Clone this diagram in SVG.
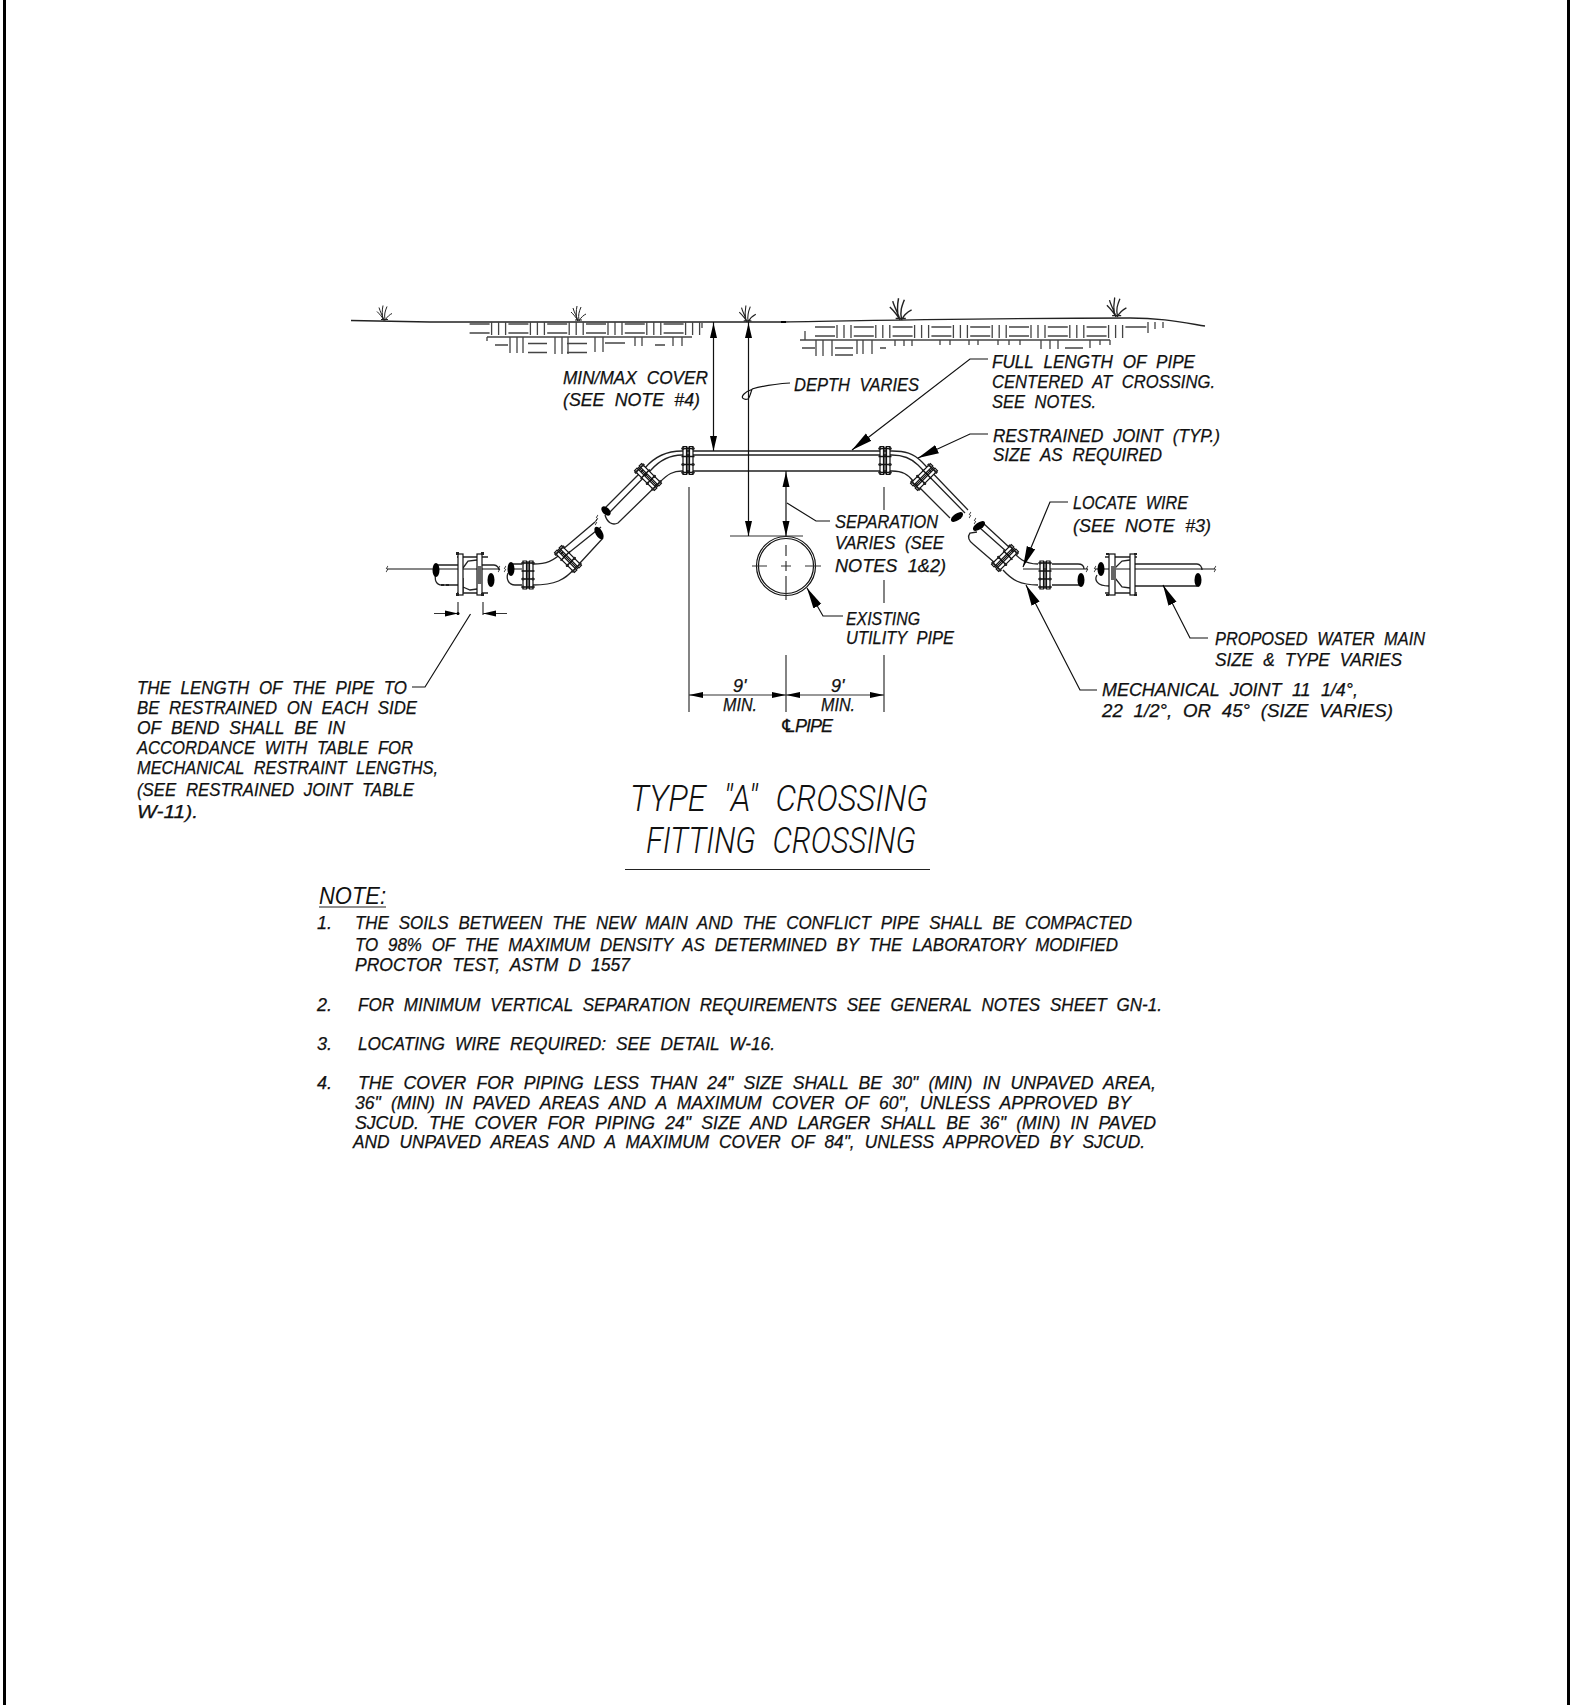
<svg xmlns="http://www.w3.org/2000/svg" width="1575" height="1705" viewBox="0 0 1575 1705">
<style>
text{fill:#111;font-family:"Liberation Sans",Arial,sans-serif;font-style:italic}
.t,.n{font-size:18px;word-spacing:.3em;stroke:#111;stroke-width:.25px}
.h{font-family:Roboto,"Liberation Sans",sans-serif;font-size:36px;font-weight:300;word-spacing:.3em}
.l{fill:none;stroke:#111;stroke-width:1.2}
.m{fill:none;stroke:#222;stroke-width:1.3}
.s{fill:none;stroke:#444;stroke-width:1.3}
.d{fill:none;stroke:#333;stroke-width:1.2}
.a{fill:none;stroke:#111;stroke-width:1.2;marker-end:url(#ah)}
</style>
<defs>
<marker id="ah" markerUnits="userSpaceOnUse" markerWidth="24" markerHeight="12" refX="21" refY="6" orient="auto"><path d="M0 1.500L21 6L0 10.500Z" fill="#000"/></marker>
<g id="brick" class="s"><path d="M0 0h20M0 9h20M22 -2v13M29 -2v13M36 -2v13"/></g>
<path id="tuft" fill="none" stroke="#222" stroke-width="1" d="M0 0C-2 -4 -5 -7 -7 -9M0 0C-1 -4 -4 -9 -5 -13M-1 -1C-2 -6 -2 -10 -1 -15M1 -1C0 -6 1 -9 3 -14M1 0C3 -4 6 -6 8 -7M-3 -1H4"/>
<g id="flange">
<path d="M-5 -14H-1.500V14H-5ZM1.500 -14H5V14H1.500Z" fill="#fff" stroke="#111" stroke-width="1.200"/>
<path d="M-6.500 -12H6.500M-6.500 -4H6.500M-6.500 4H6.500M-6.500 12H6.500" stroke="#111" stroke-width="1.500"/>
<path d="M0 -14V14" stroke="#111" stroke-width="1.200"/>
<circle cx="-5" cy="-12" r="1.500" fill="#222"/><circle cx="5" cy="-12" r="1.500" fill="#222"/>
<circle cx="-5" cy="4" r="1.500" fill="#222"/><circle cx="5" cy="4" r="1.500" fill="#222"/>
<circle cx="-5" cy="12" r="1.500" fill="#222"/><circle cx="5" cy="12" r="1.500" fill="#222"/>
</g>
<ellipse id="blob" rx="3.500" ry="7" fill="#000"/>
<path id="sq" d="M0 -3c2 1 -2 2 0 3s-2 2 0 3" fill="none" stroke="#111" stroke-width="1"/>
</defs>

<g id="border" fill="#000"><rect x="3" y="0" width="3" height="1705"/><rect x="1567" y="0" width="3" height="1705"/></g>

<g id="ground">
<path class="m" d="M351 320.500L430 322L783 322C900 320 1000 318 1130 318C1160 318 1180 322 1205 326"/>
<path d="M781 321h5v2h-5z" fill="#000"/>
<use href="#tuft" x="384" y="320.500"/><use href="#tuft" x="578" y="321"/><use href="#tuft" transform="translate(747 322) scale(1.100)"/>
<use href="#tuft" transform="translate(900 320) scale(1.450)"/><use href="#tuft" transform="translate(1116 317) scale(1.300)"/>
<g id="soil-left">
<use href="#brick" x="469.600" y="324"/><use href="#brick" x="508.400" y="324"/><use href="#brick" x="547.200" y="324"/><use href="#brick" x="586" y="324"/><use href="#brick" x="624.800" y="324"/><use href="#brick" x="663.600" y="324"/>
<path class="s" d="M702 323v5M487 337H692M487 337v4M495 345h13M510 337v16M517 337v16M523 337v16M528 343.500h19M528 352.500h19M555 337v17M562 337v17M568 337v17M567 343.500h20M567 352.500h20M595 337v15M603 337v15M605 343h20M635 337v9M642 337v9M655 345h10M673 337v9M682 337v9"/>
</g>
<g id="soil-right">
<use href="#brick" x="815" y="327"/><use href="#brick" x="853.800" y="327"/><use href="#brick" x="892.600" y="327"/><use href="#brick" x="931.400" y="327"/><use href="#brick" x="970.200" y="327"/><use href="#brick" x="1009" y="327"/><use href="#brick" x="1047.800" y="327"/><use href="#brick" x="1086.600" y="327"/>
<path class="s" d="M1125.400 327h21M1148 322v11M1155 322v7M1163 322v6M805 331v9M800 340H1110M802 348h13M816 340v16M823 340v16M832 340v16M835 348h18M835 355h18M857 340v14M863 340v14M872 340v14M880 348h6M895 340v6M904 340v6M912 340v6M940 340v5M950 340v5M969 340v5M978 340v5M998 340v5M1009 340v5M1020 340v5M1041 340v9M1050 340v9M1058 340v9M1065 348h18M1090 340v8M1100 340v5M1110 340v5"/>
</g>
</g>

<g id="water-main">
<path id="main-run" class="m" d="M682 451H892M682 455H892M682 471H892"/>
<g id="left-run">
<path class="m" d="M682 451C668 451 655 456 645 468L605 508M682 455C670 455 660 460 651 470L610 512M682 471C673 471 668 474 660 482L618 523C612 526 607 522 605 515"/>
<path class="m" d="M595 522L562 550M601 527L566 555M603 538L580 563"/>
<path class="m" d="M563 552C553 561 547 564 533 564M575 568C565 580 555 585 533 585"/>
<path class="m" d="M522 564H512M522 585H515C508 585 506 578 508 573"/>
<path class="l" d="M387 569H500M512 569H522"/>
<path class="m" d="M436 565H458M482 565H494C497 565 499 568 499 570M436 572C434 580 436 585 442 585H458"/>
<path class="m" d="M463 568L468 561L477 560M463 578V592M463 587L470 590L477 589"/>
<path class="m" d="M457 557H488M457 593H488"/>
<g fill="#fff" stroke="#111" stroke-width="1.200"><rect x="458" y="554" width="5" height="41"/><rect x="477" y="554" width="5" height="41"/></g>
<path d="M456 555h3v-3h-3zM481 555h3v-3h-3zM456 596h3v-3h-3zM481 596h3v-3h-3zM441 584h3v2h-3zM446 584h3v2h-3z" fill="#222"/>
<path d="M477 566h5v18h-5z" fill="#666"/>
<use href="#blob" x="436" y="570"/><use href="#blob" x="491" y="580"/><use href="#blob" x="511" y="569"/>
<use href="#sq" x="387" y="569"/><use href="#sq" x="499" y="569"/><use href="#sq" x="505" y="569"/>
<use href="#flange" x="528" y="575"/>
<use href="#flange" transform="translate(568 559) rotate(-45)"/>
<use href="#flange" transform="translate(648 477) rotate(-45)"/>
<use href="#flange" x="688" y="460.500"/>
<use href="#blob" transform="translate(606 511) rotate(-45) scale(1 .8)"/>
<use href="#blob" transform="translate(599 533) rotate(-30)"/>
<use href="#sq" x="597" y="518"/><use href="#sq" x="596" y="522"/>
</g>
<g id="right-run">
<path class="m" d="M892 451C905 451 913 453 922 462L968 510M892 455C902 455 911 458 918 465L965 513M892 471C902 471 908 474 914 482L950 518"/>
<path class="m" d="M983 523L1010 548M980 528L1007 552M977 532L970 533C967 537 969 541 973 544L995 563"/>
<path class="m" d="M1010 548C1018 558 1024 564 1038 564M1003 570C1012 580 1020 585 1038 585"/>
<path class="m" d="M1052 564H1078C1082 564 1084 566 1084 569M1052 585H1080M1135 564H1197C1200 564 1202 567 1202 570M1135 586H1197"/>
<path class="l" d="M1023 569H1088M1095 569H1215"/>
<path class="m" d="M1097 575C1094 580 1097 586 1109 586M1115 568L1122 561L1130 560M1115 578L1122 587L1130 588"/>
<path class="m" d="M1105 557H1137M1105 593H1137"/>
<g fill="#fff" stroke="#111" stroke-width="1.200"><rect x="1109" y="554" width="6" height="41"/><rect x="1130" y="554" width="5" height="41"/></g>
<path d="M1111 566h5v14h-5z" fill="#666"/>
<path d="M1106 555h3v-2h-3zM1134 555h3v-2h-3zM1106 596h3v-2h-3zM1134 596h3v-2h-3z" fill="#222"/>
<use href="#blob" transform="translate(957 517) rotate(55)"/><use href="#blob" transform="translate(979 526) rotate(55)"/>
<use href="#blob" x="1081" y="580"/><use href="#blob" x="1101" y="569"/><use href="#blob" x="1198" y="580"/>
<use href="#sq" x="970" y="515"/><use href="#sq" x="975" y="521"/><use href="#sq" x="1087" y="569"/><use href="#sq" x="1095" y="569"/><use href="#sq" x="1215" y="569"/>
<use href="#flange" x="885" y="460.500"/>
<use href="#flange" transform="translate(924 477) rotate(45)"/>
<use href="#flange" transform="translate(1005 558) rotate(45)"/>
<use href="#flange" x="1045" y="575"/>
</g>
</g>

<g id="existing-pipe">
<circle cx="786" cy="566" r="29.500" fill="none" stroke="#111" stroke-width="1.200"/>
<circle cx="786" cy="566" r="27.500" fill="none" stroke="#111" stroke-width="1.200"/>
<path class="d" d="M752 566H767M781 566H791M805 566H821M786 545V556M786 561V571M786 576V600"/>
</g>

<g id="connectors">
<g id="dimensions">
<path class="d" d="M730 536H803M689 487V712M884 487V510M884 580V603M884 655V712M786 655V712M458 602V615M483 602V615"/>
<path class="l" d="M713.500 322V451M748.500 322V536M786 471V536"/>
<path class="d" d="M689 695H884M434 613.500H458M483 613.500H507"/>
<g fill="#000">
<path d="M713.500 323l-3.500 15h7zM713.500 451l-3.500 -15h7zM748.500 323l-3.500 15h7zM748.500 536l-3.500 -15h7zM786 472l-3.500 15h7zM786 536l-3.500 -15h7z"/>
<path d="M689 695l14 -3v6zM786 695l-14 -3v6zM786 695l14 -3v6zM884 695l-14 -3v6z"/>
<path d="M458 613.500l-13 -3v6zM483 613.500l13 -3v6z"/><circle cx="458" cy="613.500" r="1.500"/>
</g>
</g>
<g id="leaders">
<path class="l" d="M790 383C775 384 762 386 752 389M752 389C751 392 750 397 748 399C744 400 740 398 744 394C746 392 750 390 753 389"/>
<path class="a" d="M988 359H970L852 450"/>
<path class="a" d="M988 434H970L918 458"/>
<path class="a" d="M1068 502H1050L1023 567"/>
<path class="a" d="M1097 690H1080L1026 585"/>
<path class="a" d="M1208 638H1190L1163 585"/>
<path class="a" d="M843 616H823L807 588"/>
<path class="l" d="M830 521H816L787 503"/>
<path class="l" d="M412 687H425L470.500 614"/>
</g>
</g>

<g id="labels">
<text class="t" x="563" y="384" textLength="145" lengthAdjust="spacingAndGlyphs">MIN/MAX COVER</text>
<text class="t" x="563" y="406" textLength="137" lengthAdjust="spacingAndGlyphs">(SEE NOTE #4)</text>
<text class="t" x="794" y="391" textLength="125" lengthAdjust="spacingAndGlyphs">DEPTH VARIES</text>
<text class="t" x="992" y="368" textLength="203" lengthAdjust="spacingAndGlyphs">FULL LENGTH OF PIPE</text>
<text class="t" x="992" y="388" textLength="223" lengthAdjust="spacingAndGlyphs">CENTERED AT CROSSING.</text>
<text class="t" x="992" y="408" textLength="104" lengthAdjust="spacingAndGlyphs">SEE NOTES.</text>
<text class="t" x="993" y="442" textLength="227" lengthAdjust="spacingAndGlyphs">RESTRAINED JOINT (TYP.)</text>
<text class="t" x="993" y="461" textLength="169" lengthAdjust="spacingAndGlyphs">SIZE AS REQUIRED</text>
<text class="t" x="1073" y="509" textLength="115" lengthAdjust="spacingAndGlyphs">LOCATE WIRE</text>
<text class="t" x="1073" y="532" textLength="138" lengthAdjust="spacingAndGlyphs">(SEE NOTE #3)</text>
<text class="t" x="835" y="528" textLength="103" lengthAdjust="spacingAndGlyphs">SEPARATION</text>
<text class="t" x="835" y="549" textLength="109" lengthAdjust="spacingAndGlyphs">VARIES (SEE</text>
<text class="t" x="835" y="572" textLength="111" lengthAdjust="spacingAndGlyphs">NOTES 1&amp;2)</text>
<text class="t" x="846" y="625" textLength="74" lengthAdjust="spacingAndGlyphs">EXISTING</text>
<text class="t" x="846" y="644" textLength="108" lengthAdjust="spacingAndGlyphs">UTILITY PIPE</text>
<text class="t" x="1215" y="645" textLength="210" lengthAdjust="spacingAndGlyphs">PROPOSED WATER MAIN</text>
<text class="t" x="1215" y="666" textLength="187" lengthAdjust="spacingAndGlyphs">SIZE &amp; TYPE VARIES</text>
<text class="t" x="1102" y="696" textLength="256" lengthAdjust="spacingAndGlyphs">MECHANICAL JOINT 11 1/4°,</text>
<text class="t" x="1102" y="717" textLength="291" lengthAdjust="spacingAndGlyphs">22 1/2°, OR 45° (SIZE VARIES)</text>
<text class="t" x="733" y="692">9'</text>
<text class="t" x="831" y="692">9'</text>
<text class="t" x="723" y="711" textLength="34" lengthAdjust="spacingAndGlyphs">MIN.</text>
<text class="t" x="821" y="711" textLength="34" lengthAdjust="spacingAndGlyphs">MIN.</text>
<text class="t" x="780" y="732" style="font-family:'Liberation Sans','DejaVu Sans',sans-serif;word-spacing:0" textLength="53">℄PIPE</text>
<text class="t" x="137" y="694" textLength="270" lengthAdjust="spacingAndGlyphs">THE LENGTH OF THE PIPE TO</text>
<text class="t" x="137" y="714" textLength="280" lengthAdjust="spacingAndGlyphs">BE RESTRAINED ON EACH SIDE</text>
<text class="t" x="137" y="734" textLength="208" lengthAdjust="spacingAndGlyphs">OF BEND SHALL BE IN</text>
<text class="t" x="137" y="754" textLength="276" lengthAdjust="spacingAndGlyphs">ACCORDANCE WITH TABLE FOR</text>
<text class="t" x="137" y="774" textLength="301" lengthAdjust="spacingAndGlyphs">MECHANICAL RESTRAINT LENGTHS,</text>
<text class="t" x="137" y="796" textLength="277" lengthAdjust="spacingAndGlyphs">(SEE RESTRAINED JOINT TABLE</text>
<text class="t" x="137" y="818" textLength="61" lengthAdjust="spacingAndGlyphs">W-11).</text>
</g>

<g id="title">
<text class="h" x="630" y="811" textLength="298" lengthAdjust="spacingAndGlyphs">TYPE "A" CROSSING</text>
<text class="h" x="646" y="853" textLength="270" lengthAdjust="spacingAndGlyphs">FITTING CROSSING</text>
<path d="M625 869.500H930" stroke="#222" stroke-width="1.200" fill="none"/>
</g>

<g id="notes">
<text x="319" y="904" style="font-size:23px" textLength="67" lengthAdjust="spacingAndGlyphs">NOTE:</text>
<path d="M319 907H386" stroke="#222" stroke-width="1.200" fill="none"/>
<text class="n" x="317" y="929">1.</text>
<text class="n" x="355" y="929" textLength="777" lengthAdjust="spacingAndGlyphs">THE SOILS BETWEEN THE NEW MAIN AND THE CONFLICT PIPE SHALL BE COMPACTED</text>
<text class="n" x="355" y="951" textLength="763" lengthAdjust="spacingAndGlyphs">TO 98% OF THE MAXIMUM DENSITY AS DETERMINED BY THE LABORATORY MODIFIED</text>
<text class="n" x="355" y="971" textLength="275" lengthAdjust="spacingAndGlyphs">PROCTOR TEST, ASTM D 1557</text>
<text class="n" x="317" y="1011">2.</text>
<text class="n" x="358" y="1011" textLength="804" lengthAdjust="spacingAndGlyphs">FOR MINIMUM VERTICAL SEPARATION REQUIREMENTS SEE GENERAL NOTES SHEET GN-1.</text>
<text class="n" x="317" y="1050">3.</text>
<text class="n" x="358" y="1050" textLength="417" lengthAdjust="spacingAndGlyphs">LOCATING WIRE REQUIRED: SEE DETAIL W-16.</text>
<text class="n" x="317" y="1089">4.</text>
<text class="n" x="358" y="1089" textLength="798" lengthAdjust="spacingAndGlyphs">THE COVER FOR PIPING LESS THAN 24" SIZE SHALL BE 30" (MIN) IN UNPAVED AREA,</text>
<text class="n" x="355" y="1109" textLength="776" lengthAdjust="spacingAndGlyphs">36" (MIN) IN PAVED AREAS AND A MAXIMUM COVER OF 60", UNLESS APPROVED BY</text>
<text class="n" x="355" y="1129" textLength="801" lengthAdjust="spacingAndGlyphs">SJCUD. THE COVER FOR PIPING 24" SIZE AND LARGER SHALL BE 36" (MIN) IN PAVED</text>
<text class="n" x="353" y="1148" textLength="792" lengthAdjust="spacingAndGlyphs">AND UNPAVED AREAS AND A MAXIMUM COVER OF 84", UNLESS APPROVED BY SJCUD.</text>
</g>
</svg>
